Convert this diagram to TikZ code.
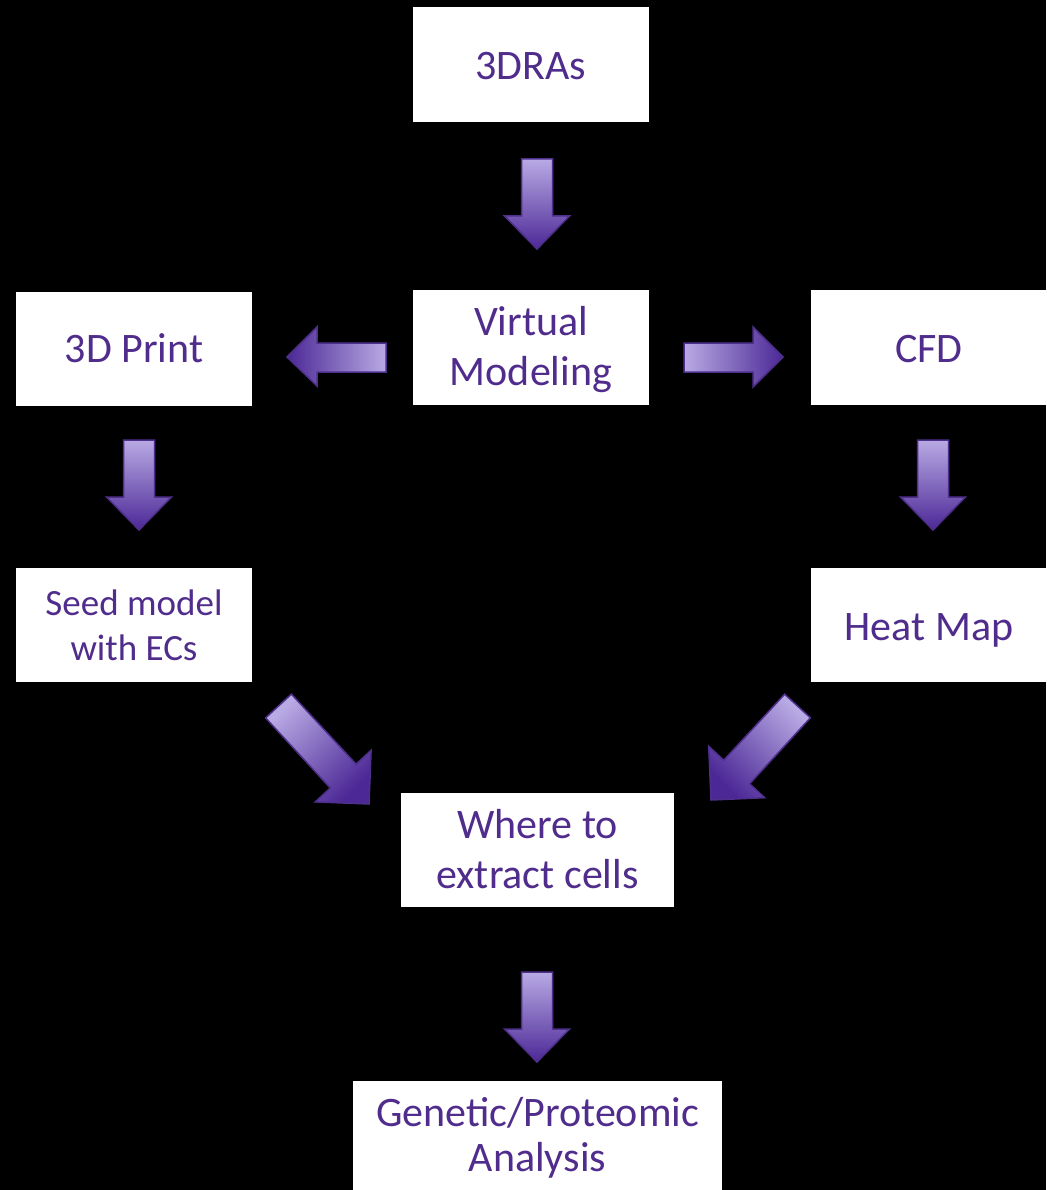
\documentclass[tikz,border=0pt]{standalone}
\usepackage{fontspec}
\setmainfont{Carlito}
\definecolor{txtpurple}{RGB}{80,45,140}
\definecolor{arlight}{RGB}{184,170,228}
\definecolor{ardark}{RGB}{76,40,150}
\definecolor{arline}{RGB}{78,48,140}
\tikzset{
  box/.style={fill=white, draw=none, inner sep=0pt, text=txtpurple,
    font=\fontsize{42}{50}\selectfont},
  smallbox/.style={box, font=\fontsize{37}{45}\selectfont},
  tightbox/.style={box, font=\fontsize{42}{45}\selectfont},
  barrow/.style={draw=arline, line width=1.5pt, line join=miter, top color=arlight, bottom color=ardark}
}
\newcommand\lw[2]{\raisebox{-#1pt}[\height][\depth]{\begin{tabular}{@{}c@{}}#2\end{tabular}}}
\newcommand\blockdown[3]{%
  \shadedraw[barrow, shading angle=0] (#1-15.5,#2) -- (#1+15.5,#2) -- (#1+15.5,#3-33) -- (#1+32.5,#3-33) -- (#1,#3) -- (#1-32.5,#3-33) -- (#1-15.5,#3-33) -- cycle;}
\begin{document}
\begin{tikzpicture}[x=1pt,y=-1pt]
\useasboundingbox[fill=black] (0,0) rectangle (1046,1190);
% nodes
\node[box, minimum width=236pt, minimum height=115pt] (dra) at (531,64.5) {\lw{5.5}{3DRAs}};
\node[box, minimum width=236pt, minimum height=115pt] (vm) at (531,347.5) {\lw{3}{Virtual\\Modeling}};
\node[box, minimum width=236pt, minimum height=114pt] (print) at (134,349) {\lw{3.7}{3D Print}};
\node[box, minimum width=237pt, minimum height=115pt] (cfd) at (929,347.5) {\lw{4.5}{CFD}};
\node[smallbox, minimum width=236pt, minimum height=114pt] (seed) at (134,625) {\lw{4}{Seed model\\with ECs}};
\node[box, minimum width=237pt, minimum height=114pt] (heat) at (929,625) {\lw{5.3}{Heat Map}};
\node[box, minimum width=273pt, minimum height=114pt] (where) at (537.5,850) {\lw{3.5}{Where to\\extract cells}};
\node[tightbox, minimum width=369pt, minimum height=114pt] (gen) at (537.5,1138) {\lw{2}{Genetic/Proteomic\\Analysis}};
% block arrows
\blockdown{537}{159}{249}
\blockdown{139}{440}{530}
\blockdown{933}{440}{530}
\blockdown{537}{972}{1062}
% left arrow
\shadedraw[barrow, shading angle=-90] (386,343) -- (386,372) -- (317,372) -- (317,386) -- (287,357) -- (317,327) -- (317,343) -- cycle;
% right arrow
\shadedraw[barrow, shading angle=90] (684,343) -- (684,372) -- (753,372) -- (753,387) -- (783,357) -- (753,327) -- (753,343) -- cycle;
% SE arrow
\shadedraw[barrow, shading angle=45] (291.4,694.1) -- (356.1,764.2) -- (371.1,750.3) -- (369,804) -- (315.3,801.9) -- (330.3,788.0) -- (265.6,717.9) -- cycle;
% SW arrow
\shadedraw[barrow, shading angle=-45] (810.4,717.8) -- (749.6,783.8) -- (764.7,797.7) -- (711,800) -- (708.7,746.3) -- (723.8,760.2) -- (784.6,694.2) -- cycle;
\end{tikzpicture}
\end{document}
